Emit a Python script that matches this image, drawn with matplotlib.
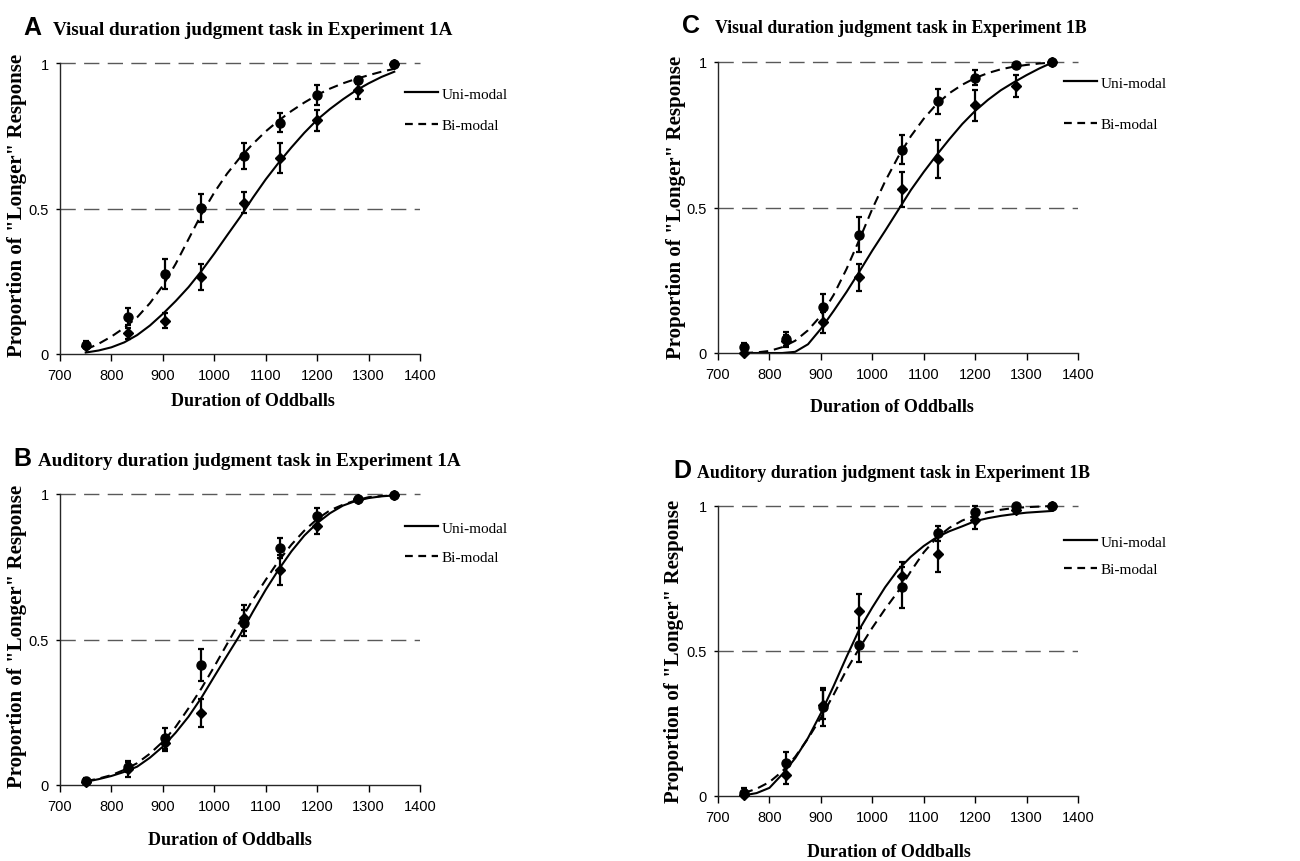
import matplotlib
matplotlib.use("Agg")
import matplotlib.pyplot as plt
from matplotlib.lines import Line2D

# %% data
durations = [750, 833, 905, 975, 1058, 1128, 1200, 1280, 1350]
fit_x = [750, 775, 800, 825, 850, 875, 900, 925, 950, 975, 1000, 1025, 1050,
         1075, 1100, 1125, 1150, 1175, 1200, 1225, 1250, 1275, 1300, 1325, 1350]

# A: visual, Experiment 1A
a_uni_pts = [0.029, 0.071, 0.115, 0.264, 0.52, 0.673, 0.803, 0.906, 0.995]
a_uni_err = [0.01, 0.02, 0.026, 0.044, 0.036, 0.052, 0.037, 0.031, 0.0]
a_bi_pts = [0.032, 0.128, 0.275, 0.501, 0.68, 0.795, 0.891, 0.94, 0.998]
a_bi_err = [0.012, 0.03, 0.05, 0.049, 0.044, 0.032, 0.034, 0.012, 0.0]
a_uni_fit = [0.005, 0.012, 0.023, 0.04, 0.065, 0.098, 0.138, 0.182, 0.23, 0.285, 0.345,
             0.408, 0.47, 0.537, 0.6, 0.657, 0.71, 0.76, 0.805, 0.842, 0.875, 0.905,
             0.93, 0.952, 0.97]
a_bi_fit = [0.015, 0.035, 0.06, 0.09, 0.126, 0.175, 0.235, 0.31, 0.395, 0.48, 0.555,
            0.62, 0.675, 0.722, 0.765, 0.802, 0.835, 0.864, 0.89, 0.912, 0.93, 0.945,
            0.958, 0.97, 0.98]

# B: auditory, Experiment 1A
b_uni_pts = [0.011, 0.054, 0.143, 0.247, 0.573, 0.74, 0.891, 0.983, 0.998]
b_uni_err = [0.005, 0.025, 0.025, 0.049, 0.045, 0.052, 0.03, 0.008, 0.0]
b_bi_pts = [0.015, 0.063, 0.16, 0.413, 0.556, 0.814, 0.923, 0.983, 0.995]
b_bi_err = [0.008, 0.02, 0.035, 0.056, 0.045, 0.035, 0.03, 0.008, 0.0]
b_uni_fit = [0.011, 0.02, 0.031, 0.045, 0.063, 0.094, 0.132, 0.18, 0.235, 0.3, 0.373,
             0.445, 0.516, 0.595, 0.671, 0.74, 0.803, 0.857, 0.9, 0.934, 0.96, 0.976,
             0.986, 0.992, 0.995]
b_bi_fit = [0.013, 0.022, 0.034, 0.052, 0.075, 0.108, 0.149, 0.2, 0.264, 0.332, 0.407,
            0.485, 0.562, 0.637, 0.705, 0.77, 0.826, 0.874, 0.914, 0.944, 0.963, 0.978,
            0.989, 0.993, 0.995]

# C: visual, Experiment 1B
c_uni_pts = [0.0, 0.042, 0.105, 0.26, 0.562, 0.667, 0.851, 0.917, 1.0]
c_uni_err = [0.005, 0.02, 0.037, 0.047, 0.06, 0.064, 0.054, 0.037, 0.0]
c_bi_pts = [0.02, 0.048, 0.157, 0.406, 0.698, 0.865, 0.946, 0.989, 1.0]
c_bi_err = [0.015, 0.025, 0.047, 0.06, 0.05, 0.042, 0.025, 0.005, 0.0]
c_uni_fit = [0.0, 0.0, 0.0, 0.0, 0.004, 0.03, 0.083, 0.145, 0.21, 0.28, 0.352,
             0.42, 0.49, 0.56, 0.622, 0.68, 0.735, 0.787, 0.832, 0.87, 0.903, 0.93,
             0.955, 0.978, 0.998]
c_bi_fit = [0.0, 0.002, 0.007, 0.02, 0.042, 0.078, 0.128, 0.2, 0.289, 0.39, 0.495,
            0.59, 0.673, 0.745, 0.805, 0.855, 0.893, 0.922, 0.945, 0.962, 0.975, 0.984,
            0.99, 0.995, 0.998]

# D: auditory, Experiment 1B
d_uni_pts = [0.003, 0.072, 0.314, 0.638, 0.76, 0.834, 0.952, 0.986, 1.0]
d_uni_err = [0.005, 0.03, 0.05, 0.059, 0.046, 0.061, 0.032, 0.01, 0.0]
d_bi_pts = [0.011, 0.115, 0.306, 0.521, 0.72, 0.906, 0.98, 1.0, 1.0]
d_bi_err = [0.015, 0.037, 0.065, 0.06, 0.07, 0.025, 0.02, 0.005, 0.0]
d_uni_fit = [0.002, 0.01, 0.028, 0.075, 0.13, 0.2, 0.285, 0.38, 0.48, 0.575, 0.65,
             0.72, 0.78, 0.825, 0.862, 0.892, 0.913, 0.93, 0.948, 0.958, 0.966, 0.972,
             0.977, 0.98, 0.983]
d_bi_fit = [0.01, 0.025, 0.048, 0.085, 0.135, 0.198, 0.27, 0.35, 0.435, 0.51, 0.58,
            0.645, 0.705, 0.775, 0.84, 0.89, 0.925, 0.95, 0.967, 0.979, 0.987, 0.993,
            0.996, 0.998, 1.0]

letters = ["A", "B", "C", "D"]
titles = ["Visual duration judgment task in Experiment 1A",
          "Auditory duration judgment task in Experiment 1A",
          "Visual duration judgment task in Experiment 1B",
          "Auditory duration judgment task in Experiment 1B"]
legend_labels = ["Uni-modal", "Bi-modal"]
x_ticks = [700, 800, 900, 1000, 1100, 1200, 1300, 1400]
y_ticks = [0, 0.5, 1]
y_ticklabels = ["0", "0.5", "1"]

# %% layout (pixel boxes, 1300x862 canvas)
W, H = 1300, 862
panels = [
    dict(pts=(a_uni_pts, a_uni_err, a_bi_pts, a_bi_err, a_uni_fit, a_bi_fit),
         box=(60, 64, 420, 355), letter_x=23, title_x=53, base=35, tsize=13.8,
         leg=(405, 96), lsp=1.18, xl=(253, 402), yl=(17, 205)),
    dict(pts=(b_uni_pts, b_uni_err, b_bi_pts, b_bi_err, b_uni_fit, b_bi_fit),
         box=(60, 495, 420, 786), letter_x=13, title_x=38, base=466, tsize=13.8,
         leg=(405, 530), lsp=1.05, xl=(230, 841), yl=(17, 636)),
    dict(pts=(c_uni_pts, c_uni_err, c_bi_pts, c_bi_err, c_uni_fit, c_bi_fit),
         box=(718, 63, 1078, 354), letter_x=682, title_x=715, base=33, tsize=12.8,
         leg=(1064, 85), lsp=1.83, xl=(892, 408), yl=(676, 207)),
    dict(pts=(d_uni_pts, d_uni_err, d_bi_pts, d_bi_err, d_uni_fit, d_bi_fit),
         box=(718, 507, 1078, 797), letter_x=673, title_x=697, base=478, tsize=12.8,
         leg=(1064, 544), lsp=0.92, xl=(889, 853), yl=(674, 651)),
]

serif = "Liberation Serif"
sans = "Liberation Sans"
dash_fit = (0, (4.5, 2.8))
dash_ref = (0, (11, 6))

fig = plt.figure(figsize=(W / 100, H / 100), dpi=100)

for letter, title, p in zip(letters, titles, panels):
    l, t, r, b = p["box"]
    ax = fig.add_axes([l / W, 1 - b / H, (r - l) / W, (b - t) / H])
    uni, uni_err, bi, bi_err, uni_fit, bi_fit = p["pts"]

    ax.axhline(0.5, color="0.35", lw=1.0, ls=dash_ref, zorder=1)
    ax.axhline(1.0, color="0.35", lw=1.0, ls=dash_ref, zorder=1, clip_on=False)

    ax.plot(fit_x, uni_fit, color="black", lw=1.5, zorder=2, clip_on=False)
    ax.plot(fit_x, bi_fit, color="black", lw=1.5, ls=dash_fit, zorder=2, clip_on=False)

    ax.errorbar(durations, uni, yerr=uni_err, fmt="D", ms=5.5, color="black",
                elinewidth=1.6, capsize=2.5, capthick=1.6, zorder=3, clip_on=False)
    ax.errorbar(durations, bi, yerr=bi_err, fmt="o", ms=6.5, color="black",
                elinewidth=1.6, capsize=2.5, capthick=1.6, zorder=4, clip_on=False)

    ax.set_xlim(700, 1400)
    ax.set_ylim(0, 1)
    ax.set_xticks(x_ticks)
    ax.set_yticks(y_ticks)
    ax.set_yticklabels(y_ticklabels)
    for s in ["top", "right"]:
        ax.spines[s].set_visible(False)
    for s in ["left", "bottom"]:
        ax.spines[s].set_linewidth(1.0)
        ax.spines[s].set_color("0.15")
    ax.tick_params(axis="x", direction="out", length=5, width=1, pad=5, labelsize=10.5)
    ax.tick_params(axis="y", direction="out", length=3, width=1, pad=5, labelsize=10.5)
    for lab in ax.get_xticklabels() + ax.get_yticklabels():
        lab.set_fontfamily(sans)

    ax.set_xlabel("Duration of Oddballs", family=serif, weight="bold", fontsize=13)
    ax.xaxis.set_label_coords((p["xl"][0] - l) / (r - l), (b - p["xl"][1]) / (b - t))
    ax.xaxis.label.set_va("center")
    ax.set_ylabel('Proportion of "Longer" Response', family=serif, weight="bold",
                  fontsize=15)
    ax.yaxis.set_label_coords((p["yl"][0] - l) / (r - l), (b - p["yl"][1]) / (b - t))
    ax.yaxis.label.set_va("center")

    handles = [Line2D([], [], color="black", lw=1.6),
               Line2D([], [], color="black", lw=1.6, ls=(0, (3.5, 2.5)))]
    lx, ly = p["leg"]
    ax.legend(handles, legend_labels, loc="upper left",
              bbox_to_anchor=(lx / W, 1 - (ly - 8) / H), bbox_transform=fig.transFigure,
              frameon=False, borderpad=0, borderaxespad=0, handlelength=2.15,
              handletextpad=0.25, labelspacing=p["lsp"],
              prop=dict(family=serif, size=11))

    fig.text(p["letter_x"] / W, 1 - p["base"] / H, letter, family=sans, weight="bold",
             fontsize=18, va="baseline", ha="left")
    fig.text(p["title_x"] / W, 1 - p["base"] / H, title, family=serif, weight="bold",
             fontsize=p["tsize"], va="baseline", ha="left")

fig.savefig("out.png", dpi=100, facecolor="white")
